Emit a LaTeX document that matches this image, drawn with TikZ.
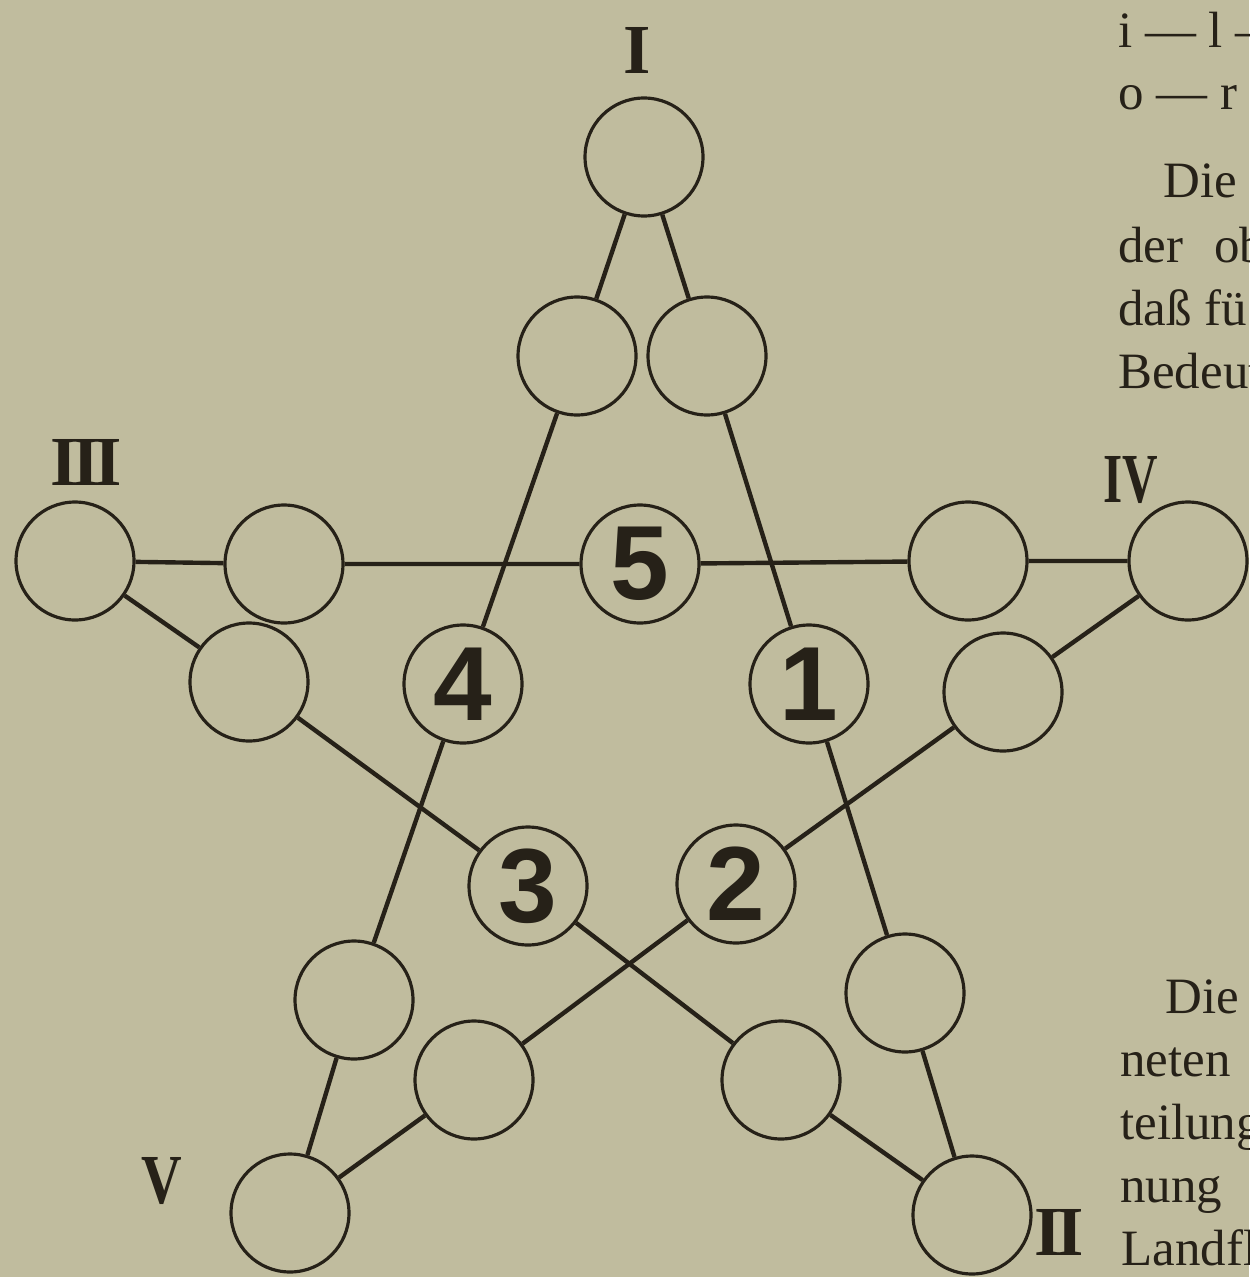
\documentclass[tikz,border=0pt]{standalone}
\usepackage{fontspec}
\newfontfamily\cifre{Liberation Sans}
\newfontfamily\romani{Liberation Serif}
\definecolor{carta}{RGB}{192,188,158}
\definecolor{inchiostro}{RGB}{38,33,24}
\tikzset{
  cerchio/.style={circle, draw=inchiostro, line width=1.8pt, minimum size=2.36cm, inner sep=0pt},
  numero/.style={cerchio, text=inchiostro, font=\cifre\bfseries\fontsize{60}{60}\selectfont},
  punta/.style={text=inchiostro, inner sep=0pt, font=\romani\bfseries\fontsize{40}{40}\selectfont},
  tratto/.style={draw=inchiostro, line width=2.5pt},
  riga/.style={anchor=base west, inner sep=0pt, text=inchiostro, font=\romani\fontsize{29}{36}\selectfont}
}
\begin{document}
\begin{tikzpicture}[x=0.02cm, y=-0.02cm]
        % Foglio
        \fill[carta] (0,0) rectangle (1249,1277);
        \useasboundingbox (0,0) rectangle (1249,1277);

        % Punte della stella
        \node[cerchio] (pI) at (644,157) {};
        \node[cerchio] (pII) at (972,1215) {};
        \node[cerchio] (pIII) at (75,561) {};
        \node[cerchio] (pIV) at (1188,561) {};
        \node[cerchio] (pV) at (290,1213) {};

        % Cerchi numerati
        \node[numero] (n1) at (809,684) {1};
        \node[numero] (n2) at (736,884) {2};
        \node[numero] (n3) at (528,886) {3};
        \node[numero] (n4) at (463,684) {4};
        \node[numero] (n5) at (640,564) {5};

        % Cerchi vuoti
        \node[cerchio] (aIl) at (577,356) {};
        \node[cerchio] (aIr) at (707,356) {};
        \node[cerchio] (aIIIh) at (284,564) {};
        \node[cerchio] (aIIId) at (249,682) {};
        \node[cerchio] (aIVh) at (968,561) {};
        \node[cerchio] (aIVd) at (1003,692) {};
        \node[cerchio] (aVv) at (354,1000) {};
        \node[cerchio] (aVd) at (474,1080) {};
        \node[cerchio] (aIIv) at (905,993) {};
        \node[cerchio] (aIId) at (781,1080) {};

        % Lati del pentagramma
        \draw[tratto] (pI) -- (aIl) -- (n4) -- (aVv) -- (pV);
        \draw[tratto] (pI) -- (aIr) -- (n1) -- (aIIv) -- (pII);
        \draw[tratto] (pIII) -- (aIIIh) -- (n5) -- (aIVh) -- (pIV);
        \draw[tratto] (pIII) -- (aIIId) -- (n3) -- (aIId) -- (pII);
        \draw[tratto] (pIV) -- (aIVd) -- (n2) -- (aVd) -- (pV);

        % Numeri romani
        \node[punta] (lI) at (637,50) {I};
        \node[punta] (lII) at (1059,1232) {I\kern-.07em I};
        \node[punta] (lIII) at (86,462) {I\kern-.08em I\kern-.08em I};
        \node[punta] (lIV) at (1131,480) {\scalebox{.7}[1]{IV}};
        \node[punta] (lV) at (162,1181) {\scalebox{.8}[1]{V}};

        % Testo della pagina accanto
        \begin{scope}
          \clip (0,0) rectangle (1249,1277);
          \node[riga] (t1) at (1118,48) {i — l —};
          \node[riga] (t2) at (1118,110) {o — r};
          \node[riga] (t3) at (1163,197) {Die};
          \node[riga] (t4) at (1118,262) {der\hspace{.6em}ob};
          \node[riga] (t5) at (1118,325) {daß fü};
          \node[riga] (t6) at (1118,388) {Bedeut};
          \node[riga] (t7) at (1165,1013) {Die};
          \node[riga] (t8) at (1120,1076) {neten};
          \node[riga] (t9) at (1120,1139) {teilung};
          \node[riga] (t10) at (1120,1202) {nung};
          \node[riga] (t11) at (1121,1265) {Landfl};
        \end{scope}
\end{tikzpicture}
\end{document}
